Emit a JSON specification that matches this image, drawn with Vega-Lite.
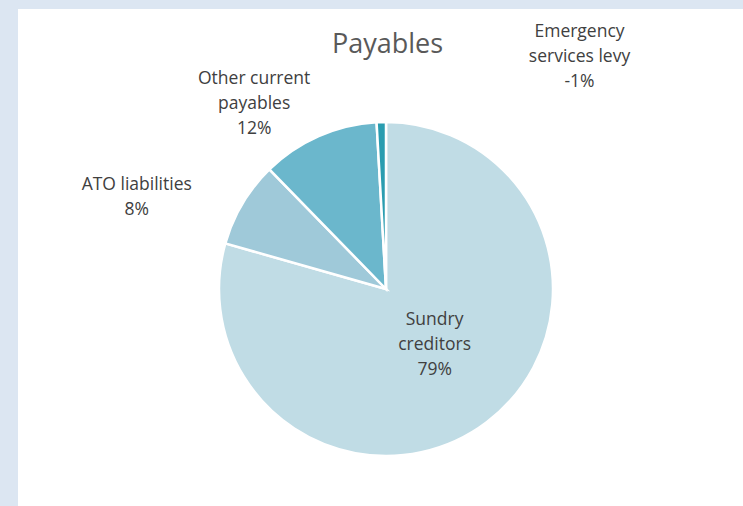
{
  "$schema": "https://vega.github.io/schema/vega-lite/v6.json",
  "width": 725,
  "height": 497,
  "autosize": {"type": "none"},
  "padding": {"left": 18, "top": 9, "right": 0, "bottom": 0},
  "background": "#dce6f2",
  "view": {"fill": "white", "stroke": null},
  "config": {"view": {"fill": "white", "stroke": null}, "font": "Open Sans"},
  "title": {
    "text": "Payables",
    "fontSize": 27,
    "fontWeight": "normal",
    "font": "Open Sans",
    "color": "#595959",
    "anchor": "middle",
    "baseline": "alphabetic",
    "offset": -71,
    "dx": 7
  },
  "data": {
    "values": [
      {"category": "Sundry creditors", "value": 79.4, "label": "Sundry\ncreditors\n79%", "order": 1},
      {"category": "ATO liabilities", "value": 8.3, "label": "ATO liabilities\n8%", "order": 2},
      {"category": "Other current payables", "value": 11.4, "label": "Other current\npayables\n12%", "order": 3},
      {"category": "Emergency services levy", "value": 0.9, "label": "Emergency\nservices levy\n-1%", "order": 4}
    ]
  },
  "encoding": {
    "theta": {"field": "value", "type": "quantitative", "stack": true},
    "order": {"field": "order", "type": "quantitative"}
  },
  "layer": [
    {
      "mark": {"type": "arc", "outerRadius": 167, "stroke": "white", "strokeWidth": 2.5, "xOffset": 5.5, "yOffset": 31.5},
      "encoding": {
        "color": {
          "field": "category",
          "type": "nominal",
          "scale": {
            "domain": ["Sundry creditors", "ATO liabilities", "Other current payables", "Emergency services levy"],
            "range": ["#c0dce5", "#9fc9d9", "#6bb7cc", "#2a9db0"]
          },
          "legend": null
        }
      }
    },
    {
      "mark": {"type": "text", "radius": 74, "dx": 4, "dy": -28, "xOffset": 5.5, "yOffset": 31.5, "align": "center", "baseline": "middle", "lineBreak": "\n", "lineHeight": 25, "fontSize": 17.5, "color": "#404040"},
      "encoding": {"text": {"condition": {"test": "datum.category === 'Sundry creditors'", "field": "label", "type": "nominal"}, "value": ""}}
    },
    {
      "mark": {"type": "text", "radius": 261, "dx": -25, "dy": 30, "xOffset": 5.5, "yOffset": 31.5, "align": "center", "baseline": "middle", "lineBreak": "\n", "lineHeight": 25, "fontSize": 17.5, "color": "#404040"},
      "encoding": {"text": {"condition": {"test": "datum.category === 'ATO liabilities'", "field": "label", "type": "nominal"}, "value": ""}}
    },
    {
      "mark": {"type": "text", "radius": 223, "dx": -42, "dy": -6, "xOffset": 5.5, "yOffset": 31.5, "align": "center", "baseline": "middle", "lineBreak": "\n", "lineHeight": 25, "fontSize": 17.5, "color": "#404040"},
      "encoding": {"text": {"condition": {"test": "datum.category === 'Other current payables'", "field": "label", "type": "nominal"}, "value": ""}}
    },
    {
      "mark": {"type": "text", "radius": 229, "dx": 200, "dy": -28, "xOffset": 5.5, "yOffset": 31.5, "align": "center", "baseline": "middle", "lineBreak": "\n", "lineHeight": 25, "fontSize": 17.5, "color": "#404040"},
      "encoding": {"text": {"condition": {"test": "datum.category === 'Emergency services levy'", "field": "label", "type": "nominal"}, "value": ""}}
    }
  ]
}
